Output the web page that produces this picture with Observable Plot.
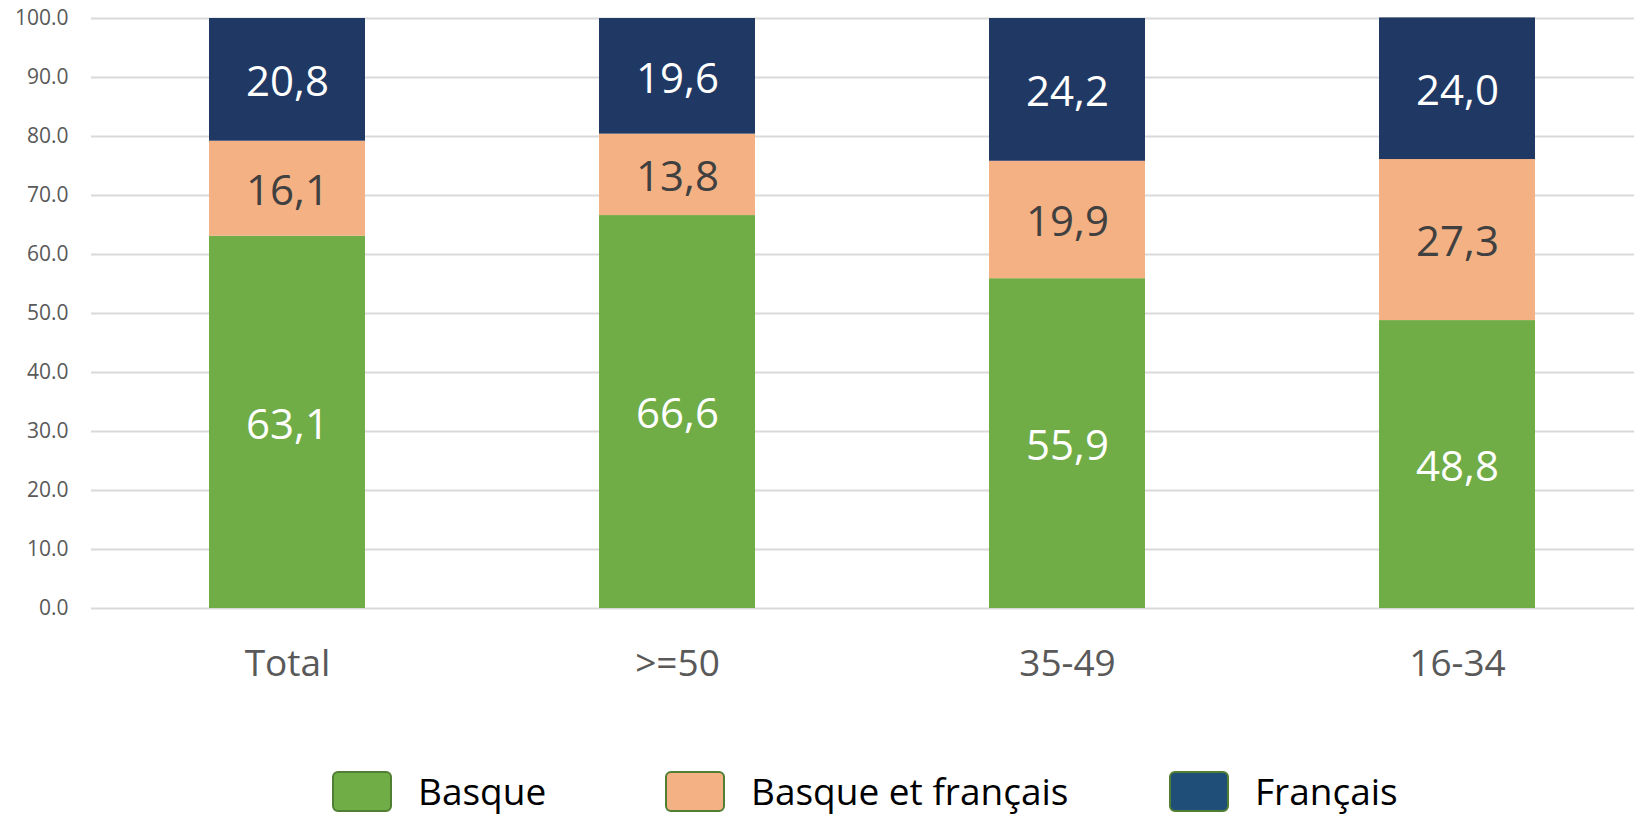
<!DOCTYPE html>
<html>
<head>
<meta charset="utf-8">
<script src="https://cdn.jsdelivr.net/npm/d3@7"></script>
<script src="https://cdn.jsdelivr.net/npm/@observablehq/plot@0.6"></script>
<style>
  html, body { margin: 0; padding: 0; background: #fff; }
  #wrap { position: relative; width: 1634px; height: 816px; font-family: "Open Sans", sans-serif; }
  #legend { position: absolute; left: 0; top: 770px; width: 1634px; height: 42px; }
  .item { position: absolute; top: 0; display: flex; align-items: center; height: 42px; }
  .sw { width: 56px; height: 37px; border: 2px solid #507E32; border-radius: 6px; box-sizing: content-box; }
  .lab { margin-left: 26px; font-size: 37px; color: #000; line-height: 42px; }
</style>
</head>
<body>
<div id="wrap">
  <div id="chart"></div>
  <div id="legend"></div>
</div>
<script>
const categories = ["Total", ">=50", "35-49", "16-34"];
const seriesNames = ["Basque", "Basque et français", "Français"];
const basque = [63.1, 66.6, 55.9, 48.8];
const basqueEtFrancais = [16.1, 13.8, 19.9, 27.3];
const francais = [20.8, 19.6, 24.2, 24.0];
const yTicks = [0, 10, 20, 30, 40, 50, 60, 70, 80, 90, 100];

const barColors = ["#70AD47", "#F4B183", "#203864"];
const legendColors = ["#70AD47", "#F4B183", "#1F4E79"];
const labelColors = ["#ffffff", "#404040", "#ffffff"];

const seriesValues = [basque, basqueEtFrancais, francais];
const data = [];
seriesNames.forEach((s, si) => {
  categories.forEach((c, ci) => {
    data.push({category: c, series: s, value: seriesValues[si][ci], si});
  });
});

const fmt = v => v.toFixed(1).replace(".", ",");

const chart = Plot.plot({
  width: 1634,
  height: 700,
  marginTop: 18,
  marginBottom: 92,
  marginLeft: 91,
  marginRight: 0,
  style: { fontFamily: "Open Sans, sans-serif", background: "transparent" },
  x: { domain: categories, range: [91, 1652], paddingInner: 0.6, paddingOuter: 0.3, label: null },
  y: { domain: [0, 100], label: null },
  color: { domain: seriesNames, range: barColors },
  marks: [
    Plot.ruleY(yTicks, { stroke: "#d9d9d9", strokeWidth: 2 }),
    Plot.axisY({ ticks: yTicks, tickFormat: d => d.toFixed(1), tickSize: 0, tickPadding: 23, fontSize: 21, fill: "#595959", label: null }),
    Plot.axisX({ tickSize: 0, tickPadding: 41, fontSize: 37, fill: "#595959", label: null }),
    Plot.barY(data, Plot.stackY({ x: "category", y: "value", fill: "series", order: seriesNames })),
    Plot.text(data, Plot.stackY({
      x: "category", y: "value", order: seriesNames,
      text: d => fmt(d.value),
      fill: d => labelColors[d.si],
      fontSize: 42,
      dy: 3,
      fontFamily: "Open Sans, sans-serif"
    }))
  ]
});
document.getElementById("chart").appendChild(chart);

const legendLefts = [332, 665, 1169];
const legend = document.getElementById("legend");
seriesNames.forEach((s, i) => {
  const item = document.createElement("div");
  item.className = "item";
  item.style.left = legendLefts[i] + "px";
  const sw = document.createElement("div");
  sw.className = "sw";
  sw.style.background = legendColors[i];
  const lab = document.createElement("span");
  lab.className = "lab";
  lab.textContent = s;
  item.appendChild(sw);
  item.appendChild(lab);
  legend.appendChild(item);
});
</script>
</body>
</html>
